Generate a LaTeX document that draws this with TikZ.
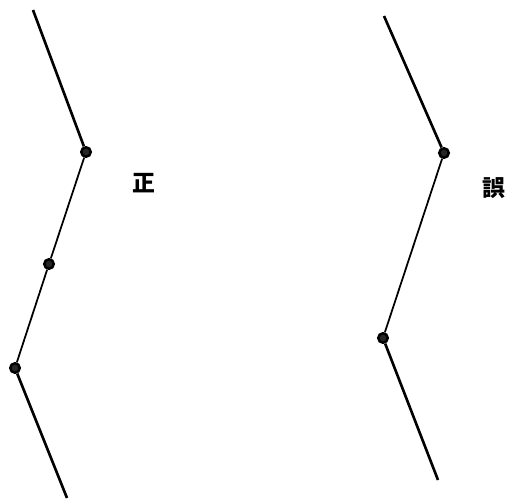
\documentclass[tikz,border=0pt]{standalone}
\usepackage{fontspec}
\newfontfamily\cjk{Noto Sans CJK JP}
\usetikzlibrary{positioning}

\begin{document}
\begin{tikzpicture}[
        x=0.02cm, y=-0.02cm,
        joint/.style={
            circle,
            draw=black,
            line width=1.4pt,
            fill=black!85,
            inner sep=0pt,
            minimum size=0.19cm
        },
        thickseg/.style={
            draw=black,
            line width=1.5pt
        },
        thinseg/.style={
            draw=black,
            line width=1pt
        },
        label_text/.style={
            font=\cjk\bfseries\fontsize{13}{13}\selectfont
        }
    ]

    \useasboundingbox (0,0) rectangle (508,500);

    % Left zigzag (correct)
    \coordinate (lstart) at (33,10);
    \node[joint] (l1) at (86,152) {};
    \node[joint] (l2) at (49,264) {};
    \node[joint] (l3) at (15,368) {};
    \coordinate (lend) at (67,498);

    \draw[thickseg] (lstart) -- (l1);
    \draw[thinseg] (l1) -- (l2);
    \draw[thinseg] (l2) -- (l3);
    \draw[thickseg] (l3) -- (lend);

    \node[label_text] (good) at (144,183) {正};

    % Right zigzag (wrong)
    \coordinate (rstart) at (384,16);
    \node[joint] (r1) at (444,153) {};
    \node[joint] (r2) at (383,338) {};
    \coordinate (rend) at (438,480);

    \draw[thickseg] (rstart) -- (r1);
    \draw[thinseg] (r1) -- (r2);
    \draw[thickseg] (r2) -- (rend);

    \node[label_text] (bad) at (494,188) {誤};

\end{tikzpicture}
\end{document}
